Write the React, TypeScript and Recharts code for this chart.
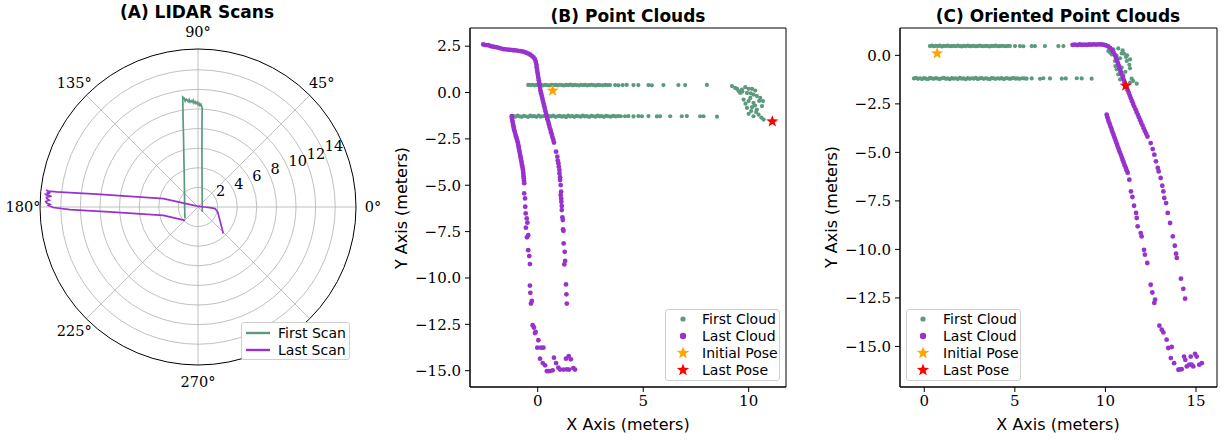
import React from 'react';
import {
  RadarChart, PolarGrid, PolarAngleAxis, PolarRadiusAxis,
  ScatterChart, Scatter, XAxis, YAxis, ReferenceArea,
} from 'recharts';

const SANS = '"DejaVu Sans", "Liberation Sans", sans-serif';
const SERIF = '"DejaVu Serif", "Liberation Serif", serif';
const GREEN = '#5b9a7d';
const PURPLE = '#9932cc';
const ORANGE = '#ffa500';
const RED = '#ff0000';

// ---------------- Panel A : LIDAR scans (polar, degrees / meters)
const ANGLE_TICKS = [0, 45, 90, 135, 180, 225, 270, 315];
const RING_TICKS = [2, 4, 6, 8, 10, 12, 14];
const R_MAX = 16.12;

const firstScanAngle = [-49.2, 78.1, 85.4, 87.1, 87.5, 87.5, 87.8, 88.4, 88.9, 89.5, 90.0, 90.5, 91.1, 91.6, 92.2, 92.6, 93.2, 93.7, 94.3, 94.7, 95.3, 95.8, 96.2, 96.9, 97.2, 97.9, 99.6, 101.9, 106.1, 115.0, 143.9, 180.0, 200.3, 221.6];
const firstScanRange = [0.67, 2.04, 5.02, 8.01, 9.51, 10.01, 10.21, 10.5, 10.35, 10.6, 10.45, 10.7, 10.55, 10.75, 10.61, 10.91, 10.72, 10.87, 10.73, 10.99, 10.8, 10.96, 11.07, 10.88, 11.19, 11.33, 9.13, 7.15, 5.2, 3.31, 1.7, 1.36, 1.44, 1.78];

const lastScanAngle = [-46.4, -31.3, -14.2, -5.3, -2.8, 0, 45, 90, 135, 160, 166.3, 171.1, 172.8, 173.9, 173.9, 173.6, 174.2, 174.6, 174.8, 175.2, 175.6, 175.8, 176.3, 176.8, 177.4, 177.9, 178.5, 179.0, 179.4, 180.2, 181.2, 183.4, 193.5, 225.6];
const lastScanRange = [3.74, 2.62, 2.07, 1.74, 1.22, 0.67, 0.1, 0.08, 0.14, 0.57, 3.64, 7.03, 10.42, 14.5, 15.37, 15.6, 15.2, 15.5, 15.16, 15.6, 15.43, 14.97, 15.5, 15.46, 15.19, 15.55, 15.45, 15.1, 15.28, 14.77, 13.06, 8.66, 3.64, 1.9];

// ---------------- Panel B : point clouds (meters)
const firstCloudB: number[][] = [
  [-0.45, 0.41], [-0.35, 0.4], [-0.25, 0.42], [-0.15, 0.39], [-0.05, 0.41], [0.05, 0.4], [0.15, 0.43], [0.25, 0.39], [0.35, 0.41], [0.45, 0.4],
  [0.55, 0.38], [0.65, 0.42], [0.75, 0.4], [0.85, 0.41], [0.95, 0.39], [1.05, 0.42], [1.15, 0.4], [1.25, 0.38], [1.35, 0.41], [1.45, 0.4],
  [1.55, 0.43], [1.65, 0.39], [1.75, 0.41], [1.85, 0.4], [1.95, 0.38], [2.05, 0.42], [2.15, 0.4], [2.25, 0.41], [2.35, 0.39], [2.45, 0.4],
  [2.55, 0.42], [2.65, 0.4], [2.75, 0.38], [2.85, 0.41], [2.95, 0.4], [3.08, 0.39], [3.2, 0.41], [3.32, 0.4], [3.43, 0.4],
  [3.67, 0.4], [3.83, 0.39], [4.03, 0.4], [4.22, 0.41], [4.54, 0.4], [4.77, 0.4], [5.25, 0.4], [5.41, 0.39], [5.96, 0.4], [6.67, 0.4], [6.99, 0.4], [8.02, 0.41],
  [-1.16, -1.27], [-1.06, -1.3], [-0.96, -1.25], [-0.86, -1.29], [-0.76, -1.31], [-0.66, -1.26], [-0.56, -1.28], [-0.46, -1.32], [-0.36, -1.25], [-0.26, -1.29],
  [-0.16, -1.27], [-0.06, -1.31], [0.04, -1.24], [0.14, -1.3], [0.24, -1.28], [0.34, -1.26], [0.44, -1.32], [0.54, -1.27], [0.64, -1.29], [0.74, -1.25],
  [0.84, -1.31], [0.94, -1.28], [1.04, -1.26], [1.14, -1.3], [1.24, -1.27], [1.34, -1.33], [1.44, -1.25], [1.54, -1.29], [1.64, -1.27], [1.74, -1.31],
  [1.84, -1.26], [1.94, -1.28], [2.04, -1.3], [2.14, -1.25], [2.24, -1.29], [2.34, -1.27], [2.44, -1.32], [2.54, -1.26], [2.64, -1.28], [2.74, -1.3],
  [2.84, -1.25], [2.94, -1.29], [3.04, -1.27], [3.14, -1.31], [3.24, -1.26], [3.34, -1.28], [3.46, -1.3], [3.58, -1.26], [3.7, -1.29], [3.82, -1.27], [3.94, -1.28],
  [4.14, -1.28], [4.3, -1.27], [4.54, -1.29], [4.77, -1.27], [4.94, -1.28], [5.25, -1.27], [5.65, -1.29], [5.8, -1.28], [6.28, -1.28], [6.83, -1.28],
  [7.07, -1.27], [7.7, -1.28], [7.86, -1.28], [8.5, -1.3],
  [9.21, 0.35], [9.36, 0.25], [9.45, 0.2], [9.52, 0.08], [9.68, 0.16], [9.84, 0.29], [10.0, 0.2], [10.16, 0.2], [10.31, 0.11], [9.6, -0.02],
  [9.7, 0.05], [9.92, -0.02], [10.1, -0.05], [10.23, -0.11], [10.08, -0.29], [10.39, -0.19], [9.76, -0.38], [10.0, -0.46], [10.23, -0.56], [10.55, -0.29],
  [10.5, -0.45], [10.68, -0.46], [9.85, -0.6], [10.3, -0.7], [9.92, -0.83], [10.16, -0.79], [10.39, -0.92], [10.63, -0.73], [10.12, -1.0], [10.35, -1.05],
  [10.0, -1.15], [10.23, -1.28], [10.47, -1.19], [10.6, -1.35], [10.71, -1.46],
];

const lastCloudB: number[][] = [
  [-2.58, 2.59], [-2.46, 2.56], [-2.34, 2.55], [-2.22, 2.5], [-2.11, 2.47], [-2.0, 2.45], [-1.88, 2.42], [-1.76, 2.38], [-1.63, 2.34], [-1.52, 2.33],
  [-1.4, 2.31], [-1.28, 2.3], [-1.16, 2.28], [-1.04, 2.27], [-0.92, 2.25], [-0.8, 2.23], [-0.68, 2.2], [-0.57, 2.16], [-0.47, 2.11], [-0.37, 2.05],
  [-0.28, 1.98], [-0.2, 1.9], [-0.13, 1.78], [-0.09, 1.65], [-0.06, 1.5], [-0.05, 1.36], [-0.03, 1.22], [-0.01, 1.08], [0.01, 0.94], [0.03, 0.8],
  [0.05, 0.66], [0.07, 0.52], [0.09, 0.38], [0.11, 0.24], [0.13, 0.1], [0.16, -0.04], [0.19, -0.18], [0.22, -0.32], [0.25, -0.46], [0.28, -0.6],
  [0.31, -0.74], [0.34, -0.88], [0.37, -1.02], [0.4, -1.16], [0.43, -1.3], [0.46, -1.44], [0.5, -1.58], [0.53, -1.72], [0.56, -1.86], [0.6, -2.0],
  [0.63, -2.14], [0.67, -2.28], [0.7, -2.42], [0.74, -2.56], [0.77, -2.7],
  [0.87, -3.19], [0.93, -3.46], [0.95, -3.67], [0.98, -3.82], [1.0, -4.0], [1.03, -4.18], [1.03, -4.36], [1.06, -4.57], [1.06, -4.72], [1.09, -4.99],
  [1.11, -5.35], [1.09, -5.53], [1.11, -5.71], [1.12, -5.89], [1.14, -6.12], [1.14, -6.34], [1.17, -6.73], [1.19, -6.88], [1.2, -7.38], [1.22, -7.46],
  [1.23, -8.14], [1.28, -8.59], [1.3, -9.08], [1.26, -9.27], [1.34, -10.35], [1.36, -10.88], [1.38, -11.38],
  [-1.23, -1.28], [-1.22, -1.4], [-1.2, -1.52], [-1.18, -1.64], [-1.16, -1.76], [-1.14, -1.88], [-1.12, -2.0], [-1.09, -2.12], [-1.06, -2.24], [-1.03, -2.36],
  [-1.0, -2.48], [-0.97, -2.6], [-0.94, -2.72], [-0.92, -2.84], [-0.9, -2.96], [-0.88, -3.08], [-0.86, -3.2], [-0.84, -3.32], [-0.82, -3.44], [-0.8, -3.56],
  [-0.78, -3.68], [-0.76, -3.8], [-0.74, -3.92], [-0.72, -4.04], [-0.7, -4.16], [-0.69, -4.28], [-0.68, -4.4], [-0.67, -4.52], [-0.66, -4.64], [-0.65, -4.76], [-0.64, -4.89],
  [-0.64, -5.44], [-0.6, -5.71], [-0.59, -6.16], [-0.57, -6.52], [-0.52, -6.79], [-0.49, -7.02], [-0.56, -7.29], [-0.45, -7.69], [-0.51, -7.81], [-0.45, -8.5],
  [-0.4, -8.82], [-0.37, -9.25], [-0.37, -10.41], [-0.35, -10.8], [-0.28, -11.24], [-0.32, -11.38], [-0.24, -12.55], [-0.18, -12.67], [-0.1, -12.91], [-0.13, -12.97],
  [0.03, -13.36], [-0.02, -13.76], [0.16, -13.76], [0.27, -13.76], [0.11, -14.35], [0.24, -14.59], [0.35, -14.71], [0.43, -15.02], [0.5, -15.02], [0.58, -15.02],
  [0.71, -14.98], [0.77, -14.3], [0.87, -14.59], [0.98, -14.84], [1.06, -14.94], [1.22, -14.94], [1.38, -14.93], [1.49, -14.94], [1.34, -14.35], [1.47, -14.22],
  [1.57, -14.39], [1.69, -14.86], [1.77, -14.94],
];

// ---------------- Panel C : oriented point clouds (meters)
const firstCloudC: number[][] = [
  [0.31, 0.48], [0.42, 0.5], [0.53, 0.47], [0.64, 0.49], [0.75, 0.48], [0.86, 0.5], [0.97, 0.46], [1.08, 0.49], [1.19, 0.48], [1.3, 0.5],
  [1.41, 0.47], [1.52, 0.48], [1.63, 0.49], [1.74, 0.47], [1.85, 0.5], [1.96, 0.48], [2.07, 0.46], [2.18, 0.49], [2.29, 0.48], [2.4, 0.5],
  [2.51, 0.47], [2.62, 0.48], [2.73, 0.49], [2.84, 0.47], [2.95, 0.48], [3.06, 0.5], [3.17, 0.48], [3.28, 0.47], [3.39, 0.49], [3.5, 0.48],
  [3.61, 0.46], [3.72, 0.49], [3.83, 0.48], [3.94, 0.5], [4.05, 0.47], [4.16, 0.48], [4.27, 0.49], [4.4, 0.48], [4.52, 0.47], [4.62, 0.49], [4.73, 0.48],
  [5.01, 0.48], [5.28, 0.48], [5.47, 0.47], [5.93, 0.48], [6.11, 0.48], [6.66, 0.48], [7.4, 0.48], [7.68, 0.48],
  [-0.57, -1.19], [-0.46, -1.16], [-0.35, -1.21], [-0.24, -1.18], [-0.13, -1.22], [-0.02, -1.17], [0.09, -1.2], [0.2, -1.23], [0.31, -1.16], [0.42, -1.19],
  [0.53, -1.21], [0.64, -1.17], [0.75, -1.2], [0.86, -1.22], [0.97, -1.18], [1.08, -1.16], [1.19, -1.21], [1.3, -1.19], [1.41, -1.23], [1.52, -1.17],
  [1.63, -1.2], [1.74, -1.18], [1.85, -1.22], [1.96, -1.16], [2.07, -1.2], [2.18, -1.19], [2.29, -1.23], [2.4, -1.17], [2.51, -1.21], [2.62, -1.18],
  [2.73, -1.2], [2.84, -1.16], [2.95, -1.22], [3.06, -1.19], [3.17, -1.17], [3.28, -1.21], [3.39, -1.18], [3.5, -1.2], [3.61, -1.23], [3.72, -1.17],
  [3.83, -1.19], [3.94, -1.21], [4.05, -1.18], [4.16, -1.2], [4.27, -1.17], [4.38, -1.22], [4.49, -1.19], [4.6, -1.18], [4.71, -1.21], [4.82, -1.19],
  [4.93, -1.17], [5.04, -1.2], [5.15, -1.19], [5.27, -1.21], [5.4, -1.18], [5.52, -1.19], [5.65, -1.2],
  [5.93, -1.19], [6.39, -1.21], [6.57, -1.18], [6.94, -1.19], [7.59, -1.2], [7.81, -1.19], [8.42, -1.18], [8.69, -1.19], [9.24, -1.2],
  [10.16, 0.23], [10.25, 0.15], [10.44, 0.31], [10.71, 0.36], [10.95, 0.26], [11.03, 0.09], [10.9, 0.1], [10.35, 0.05], [10.62, -0.03], [10.81, -0.15],
  [11.14, -0.08], [11.2, 0.0], [10.53, -0.29], [10.71, -0.43], [11.18, -0.29], [11.36, -0.21], [11.32, -0.49], [10.55, -0.55], [10.62, -0.72], [10.9, -0.63],
  [11.36, -0.67], [11.1, -0.85], [10.71, -0.98], [10.99, -1.06], [10.81, -1.24], [11.45, -1.2], [11.54, -1.32], [11.36, -1.41], [11.73, -1.46],
];

const lastCloudC: number[][] = [
  [8.19, 0.54], [8.32, 0.55], [8.45, 0.53], [8.58, 0.56], [8.71, 0.54], [8.84, 0.55], [8.97, 0.54], [9.1, 0.56], [9.23, 0.55], [9.36, 0.57],
  [9.49, 0.55], [9.62, 0.57], [9.75, 0.56], [9.88, 0.55], [10.01, 0.52], [10.14, 0.47], [10.26, 0.38], [10.36, 0.28], [10.44, 0.16], [10.52, 0.02],
  [10.58, -0.12], [10.64, -0.26], [10.69, -0.4], [10.74, -0.54], [10.79, -0.68], [10.84, -0.82], [10.89, -0.96], [10.95, -1.1], [11.0, -1.24], [11.05, -1.38],
  [11.11, -1.52], [11.17, -1.66], [11.23, -1.8], [11.29, -1.94], [11.35, -2.08], [11.41, -2.22], [11.47, -2.36], [11.53, -2.5], [11.59, -2.64], [11.66, -2.78],
  [11.72, -2.92], [11.79, -3.06], [11.85, -3.2], [11.92, -3.34], [11.98, -3.48], [12.05, -3.62], [12.11, -3.76], [12.18, -3.9], [12.25, -4.04], [12.32, -4.18],
  [12.5, -4.52], [12.61, -4.83], [12.7, -5.12], [12.79, -5.46], [12.89, -5.8], [12.94, -5.98], [13.05, -6.32], [13.14, -6.72], [13.2, -7.01], [13.25, -7.35],
  [13.35, -7.61], [13.44, -8.12], [13.57, -8.64], [13.72, -9.33], [13.83, -9.81], [13.9, -10.22], [13.94, -10.44], [14.17, -11.51], [14.3, -12.03], [14.4, -12.54],
  [10.07, -3.06], [10.11, -3.19], [10.15, -3.32], [10.2, -3.45], [10.25, -3.58], [10.3, -3.71], [10.35, -3.84], [10.4, -3.97], [10.45, -4.1], [10.5, -4.23],
  [10.55, -4.36], [10.6, -4.49], [10.65, -4.62], [10.7, -4.75], [10.75, -4.88], [10.8, -5.01], [10.86, -5.14], [10.91, -5.27], [10.96, -5.4], [11.01, -5.53],
  [11.06, -5.66], [11.12, -5.79], [11.17, -5.92], [11.23, -6.05],
  [11.32, -6.41], [11.41, -7.01], [11.49, -7.3], [11.58, -7.75], [11.69, -8.12], [11.73, -8.38], [11.78, -8.81], [11.95, -9.16], [12.0, -9.33], [12.13, -10.02],
  [12.18, -10.27], [12.31, -10.7], [12.5, -11.82], [12.59, -12.22], [12.74, -12.59], [12.7, -12.76], [12.98, -13.93], [13.11, -14.14], [13.2, -14.28], [13.38, -14.65],
  [13.47, -15.08], [13.66, -15.03], [13.61, -15.6], [13.79, -15.86], [14.03, -16.2], [14.12, -16.18], [14.21, -16.17], [14.34, -15.52], [14.41, -15.69], [14.49, -16.03],
  [14.63, -15.94], [14.71, -15.52], [14.76, -15.94], [14.85, -16.03], [14.95, -15.38], [15.04, -15.52], [15.18, -15.94], [15.32, -15.86],
];

const initialPose = [0.71, 0.1];
const lastPose = [11.12, -1.56];

// axis ranges & ticks
const B_X_DOMAIN = [-3.21, 11.77];
const B_Y_DOMAIN = [-15.88, 3.48];
const B_X_TICKS = [0, 5, 10];
const B_Y_TICKS = [2.5, 0, -2.5, -5, -7.5, -10, -12.5, -15];
const C_X_DOMAIN = [-1.34, 16.16];
const C_Y_DOMAIN = [-17.09, 1.41];
const C_X_TICKS = [0, 5, 10, 15];
const C_Y_TICKS = [0, -2.5, -5, -7.5, -10, -12.5, -15];

// ---------------- helpers
const toPts = (arr: number[][]) => arr.map(([x, y]) => ({ x, y }));
const polarToXY = (angles: number[], ranges: number[]) =>
  angles.map((a, i) => ({ x: ranges[i] * Math.cos((a * Math.PI) / 180), y: ranges[i] * Math.sin((a * Math.PI) / 180) }));

const dotShape = (r: number, color: string) => (p: any) => <circle cx={p.cx} cy={p.cy} r={r} fill={color} />;
const starPath = (cx: number, cy: number, R: number) => {
  const pts: string[] = [];
  for (let i = 0; i < 10; i++) {
    const rad = i % 2 === 0 ? R : R * 0.42;
    const a = (-90 + i * 36) * (Math.PI / 180);
    pts.push(`${cx + rad * Math.cos(a)},${cy + rad * Math.sin(a)}`);
  }
  return pts.join(' ');
};
const starShape = (R: number, color: string) => (p: any) => <polygon points={starPath(p.cx, p.cy, R)} fill={color} />;
const noShape = () => <g />;

const fmtY = (v: number) => (v < 0 ? '\u2212' : '') + Math.abs(v).toFixed(1);
const tickStyle = { fontFamily: SERIF, fontSize: 15, fill: '#000' };

type Item = { label: string; color: string; kind: 'dot' | 'star' | 'line'; size: number };

function LegendBox(props: { left: number; top: number; width: number; height: number; markerX: number; textX: number; rowY: number[]; items: Item[] }) {
  const { left, top, width, height, markerX, textX, rowY, items } = props;
  return (
    <div style={{ position: 'absolute', left, top, width, height, background: '#fff', border: '1px solid #d0d0d0', borderRadius: 3, boxSizing: 'border-box' }}>
      {items.map((it, i) => (
        <React.Fragment key={it.label}>
          <svg style={{ position: 'absolute', left: markerX - 14, top: rowY[i] - 8 }} width={28} height={16}>
            {it.kind === 'dot' && <circle cx={14} cy={8} r={it.size} fill={it.color} />}
            {it.kind === 'star' && <polygon points={starPath(14, 8, it.size)} fill={it.color} />}
            {it.kind === 'line' && <line x1={2} x2={26} y1={8} y2={8} stroke={it.color} strokeWidth={2.4} />}
          </svg>
          <span style={{ position: 'absolute', left: textX, top: rowY[i] - 9, lineHeight: '18px', fontFamily: SANS, fontSize: 14, whiteSpace: 'nowrap', color: '#000' }}>{it.label}</span>
        </React.Fragment>
      ))}
    </div>
  );
}

function Label(props: { x: number; y: number; text: string; size: number; bold?: boolean; rotate?: boolean }) {
  const { x, y, text, size, bold, rotate } = props;
  return (
    <div style={{ position: 'absolute', left: x, top: y, transform: `translate(-50%, -50%)${rotate ? ' rotate(-90deg)' : ''}`, fontFamily: SANS, fontSize: size, fontWeight: bold ? 'bold' : 'normal', whiteSpace: 'nowrap', color: '#000', lineHeight: 1 }}>
      {text}
    </div>
  );
}

const cloudItems: Item[] = [
  { label: 'First Cloud', color: GREEN, kind: 'dot', size: 2.6 },
  { label: 'Last Cloud', color: PURPLE, kind: 'dot', size: 3.2 },
  { label: 'Initial Pose', color: ORANGE, kind: 'star', size: 6.5 },
  { label: 'Last Pose', color: RED, kind: 'star', size: 6.5 },
];

function CloudPanel(props: { left: number; width: number; margin: any; xDomain: number[]; yDomain: number[]; xTicks: number[]; yTicks: number[]; first: number[][]; last: number[][] }) {
  const { left, width, margin, xDomain, yDomain, xTicks, yTicks, first, last } = props;
  return (
    <div style={{ position: 'absolute', left, top: 0 }}>
      <ScatterChart width={width} height={443} margin={margin}>
        <XAxis type="number" dataKey="x" domain={xDomain} ticks={xTicks} allowDataOverflow interval={0} height={30}
          stroke="#000" tickSize={5} tickMargin={3} tick={tickStyle} />
        <YAxis type="number" dataKey="y" domain={yDomain} ticks={yTicks} allowDataOverflow interval={0} width={60}
          stroke="#000" tickSize={5} tickMargin={4} tick={tickStyle} tickFormatter={fmtY} />
        <ReferenceArea x1={xDomain[0]} x2={xDomain[1]} y1={yDomain[0]} y2={yDomain[1]} fill="none" stroke="#000" strokeWidth={1} />
        <Scatter name="First Cloud" data={toPts(first)} shape={dotShape(2.1, GREEN)} isAnimationActive={false} />
        <Scatter name="Last Cloud" data={toPts(last)} shape={dotShape(2.4, PURPLE)} isAnimationActive={false} />
        <Scatter name="Initial Pose" data={[{ x: initialPose[0], y: initialPose[1] }]} shape={starShape(6.3, ORANGE)} isAnimationActive={false} />
        <Scatter name="Last Pose" data={[{ x: lastPose[0], y: lastPose[1] }]} shape={starShape(6.3, RED)} isAnimationActive={false} />
      </ScatterChart>
    </div>
  );
}

const angleData = ANGLE_TICKS.map((a) => ({ angle: a }));

const angleTick = (p: any) => {
  const v = p.payload.value;
  if (v === 315) return <g />;
  return (
    <text x={p.x} y={p.y} textAnchor="middle" dominantBaseline="central" fontFamily={SERIF} fontSize={14.5} fill="#000">{`${v}\u00b0`}</text>
  );
};
const radiusTick = (p: any) => (
  <text x={p.x} y={p.y - 3} textAnchor="start" fontFamily={SERIF} fontSize={14.5} fill="#000">{p.payload.value}</text>
);

export default function App() {
  const firstScan = polarToXY(firstScanAngle, firstScanRange);
  const lastScan = polarToXY(lastScanAngle, lastScanRange);
  return (
    <div style={{ position: 'relative', width: 1222, height: 443, background: '#fff', overflow: 'hidden' }}>
      <style>{'body{margin:0;background:#fff}'}</style>

      {/* Panel A */}
      <div style={{ position: 'absolute', left: 0, top: 0 }}>
        <RadarChart width={400} height={443} cx={198} cy={207} outerRadius={158} innerRadius={0} startAngle={45} endAngle={405} data={angleData} margin={{ top: 0, right: 0, bottom: 0, left: 0 }}>
          <PolarGrid gridType="circle" stroke="#b0b0b0" strokeWidth={0.8} />
          <PolarAngleAxis dataKey="angle" axisLineType="circle" axisLine={{ stroke: '#000', strokeWidth: 1 }} tickLine={false} tickSize={17} tick={angleTick} />
          <PolarRadiusAxis type="number" angle={22.5} domain={[0, R_MAX]} ticks={RING_TICKS} allowDataOverflow axisLine={false} tickLine={false} tick={radiusTick} />
        </RadarChart>
      </div>
      <div style={{ position: 'absolute', left: 0, top: 0 }}>
        <ScatterChart width={400} height={443} margin={{ top: 49, right: 44, bottom: 78, left: 40 }}>
          <XAxis type="number" dataKey="x" domain={[-R_MAX, R_MAX]} allowDataOverflow hide />
          <YAxis type="number" dataKey="y" domain={[-R_MAX, R_MAX]} allowDataOverflow hide />
          <Scatter name="First Scan" data={firstScan} line={{ stroke: GREEN, strokeWidth: 1.7 }} lineJointType="linear" shape={noShape} isAnimationActive={false} />
          <Scatter name="Last Scan" data={lastScan} line={{ stroke: PURPLE, strokeWidth: 1.7 }} lineJointType="linear" shape={noShape} isAnimationActive={false} />
        </ScatterChart>
      </div>
      <Label x={197} y={12} text="(A) LIDAR Scans" size={17} bold />
      <LegendBox left={241} top={322} width={109} height={38} markerX={16} textX={36} rowY={[10, 27]}
        items={[{ label: 'First Scan', color: GREEN, kind: 'line', size: 2 }, { label: 'Last Scan', color: PURPLE, kind: 'line', size: 2 }]} />

      {/* Panel B */}
      <CloudPanel left={380} width={420} margin={{ top: 28, right: 14, bottom: 26, left: 30 }}
        xDomain={B_X_DOMAIN} yDomain={B_Y_DOMAIN} xTicks={B_X_TICKS} yTicks={B_Y_TICKS} first={firstCloudB} last={lastCloudB} />
      <Label x={628} y={16} text="(B) Point Clouds" size={17} bold />
      <Label x={628} y={425} text="X Axis (meters)" size={16} />
      <Label x={402} y={208} text="Y Axis (meters)" size={16} rotate />
      <LegendBox left={665} top={309} width={115} height={72} markerX={17} textX={36} rowY={[9, 26, 43, 60]} items={cloudItems} />

      {/* Panel C */}
      <CloudPanel left={800} width={422} margin={{ top: 28, right: 5, bottom: 26, left: 40 }}
        xDomain={C_X_DOMAIN} yDomain={C_Y_DOMAIN} xTicks={C_X_TICKS} yTicks={C_Y_TICKS} first={firstCloudC} last={lastCloudC} />
      <Label x={1058} y={16} text="(C) Oriented Point Clouds" size={17} bold />
      <Label x={1058} y={425} text="X Axis (meters)" size={16} />
      <Label x={832} y={207} text="Y Axis (meters)" size={16} rotate />
      <LegendBox left={906} top={309} width={115} height={72} markerX={16} textX={36} rowY={[9, 26, 43, 60]} items={cloudItems} />
    </div>
  );
}
